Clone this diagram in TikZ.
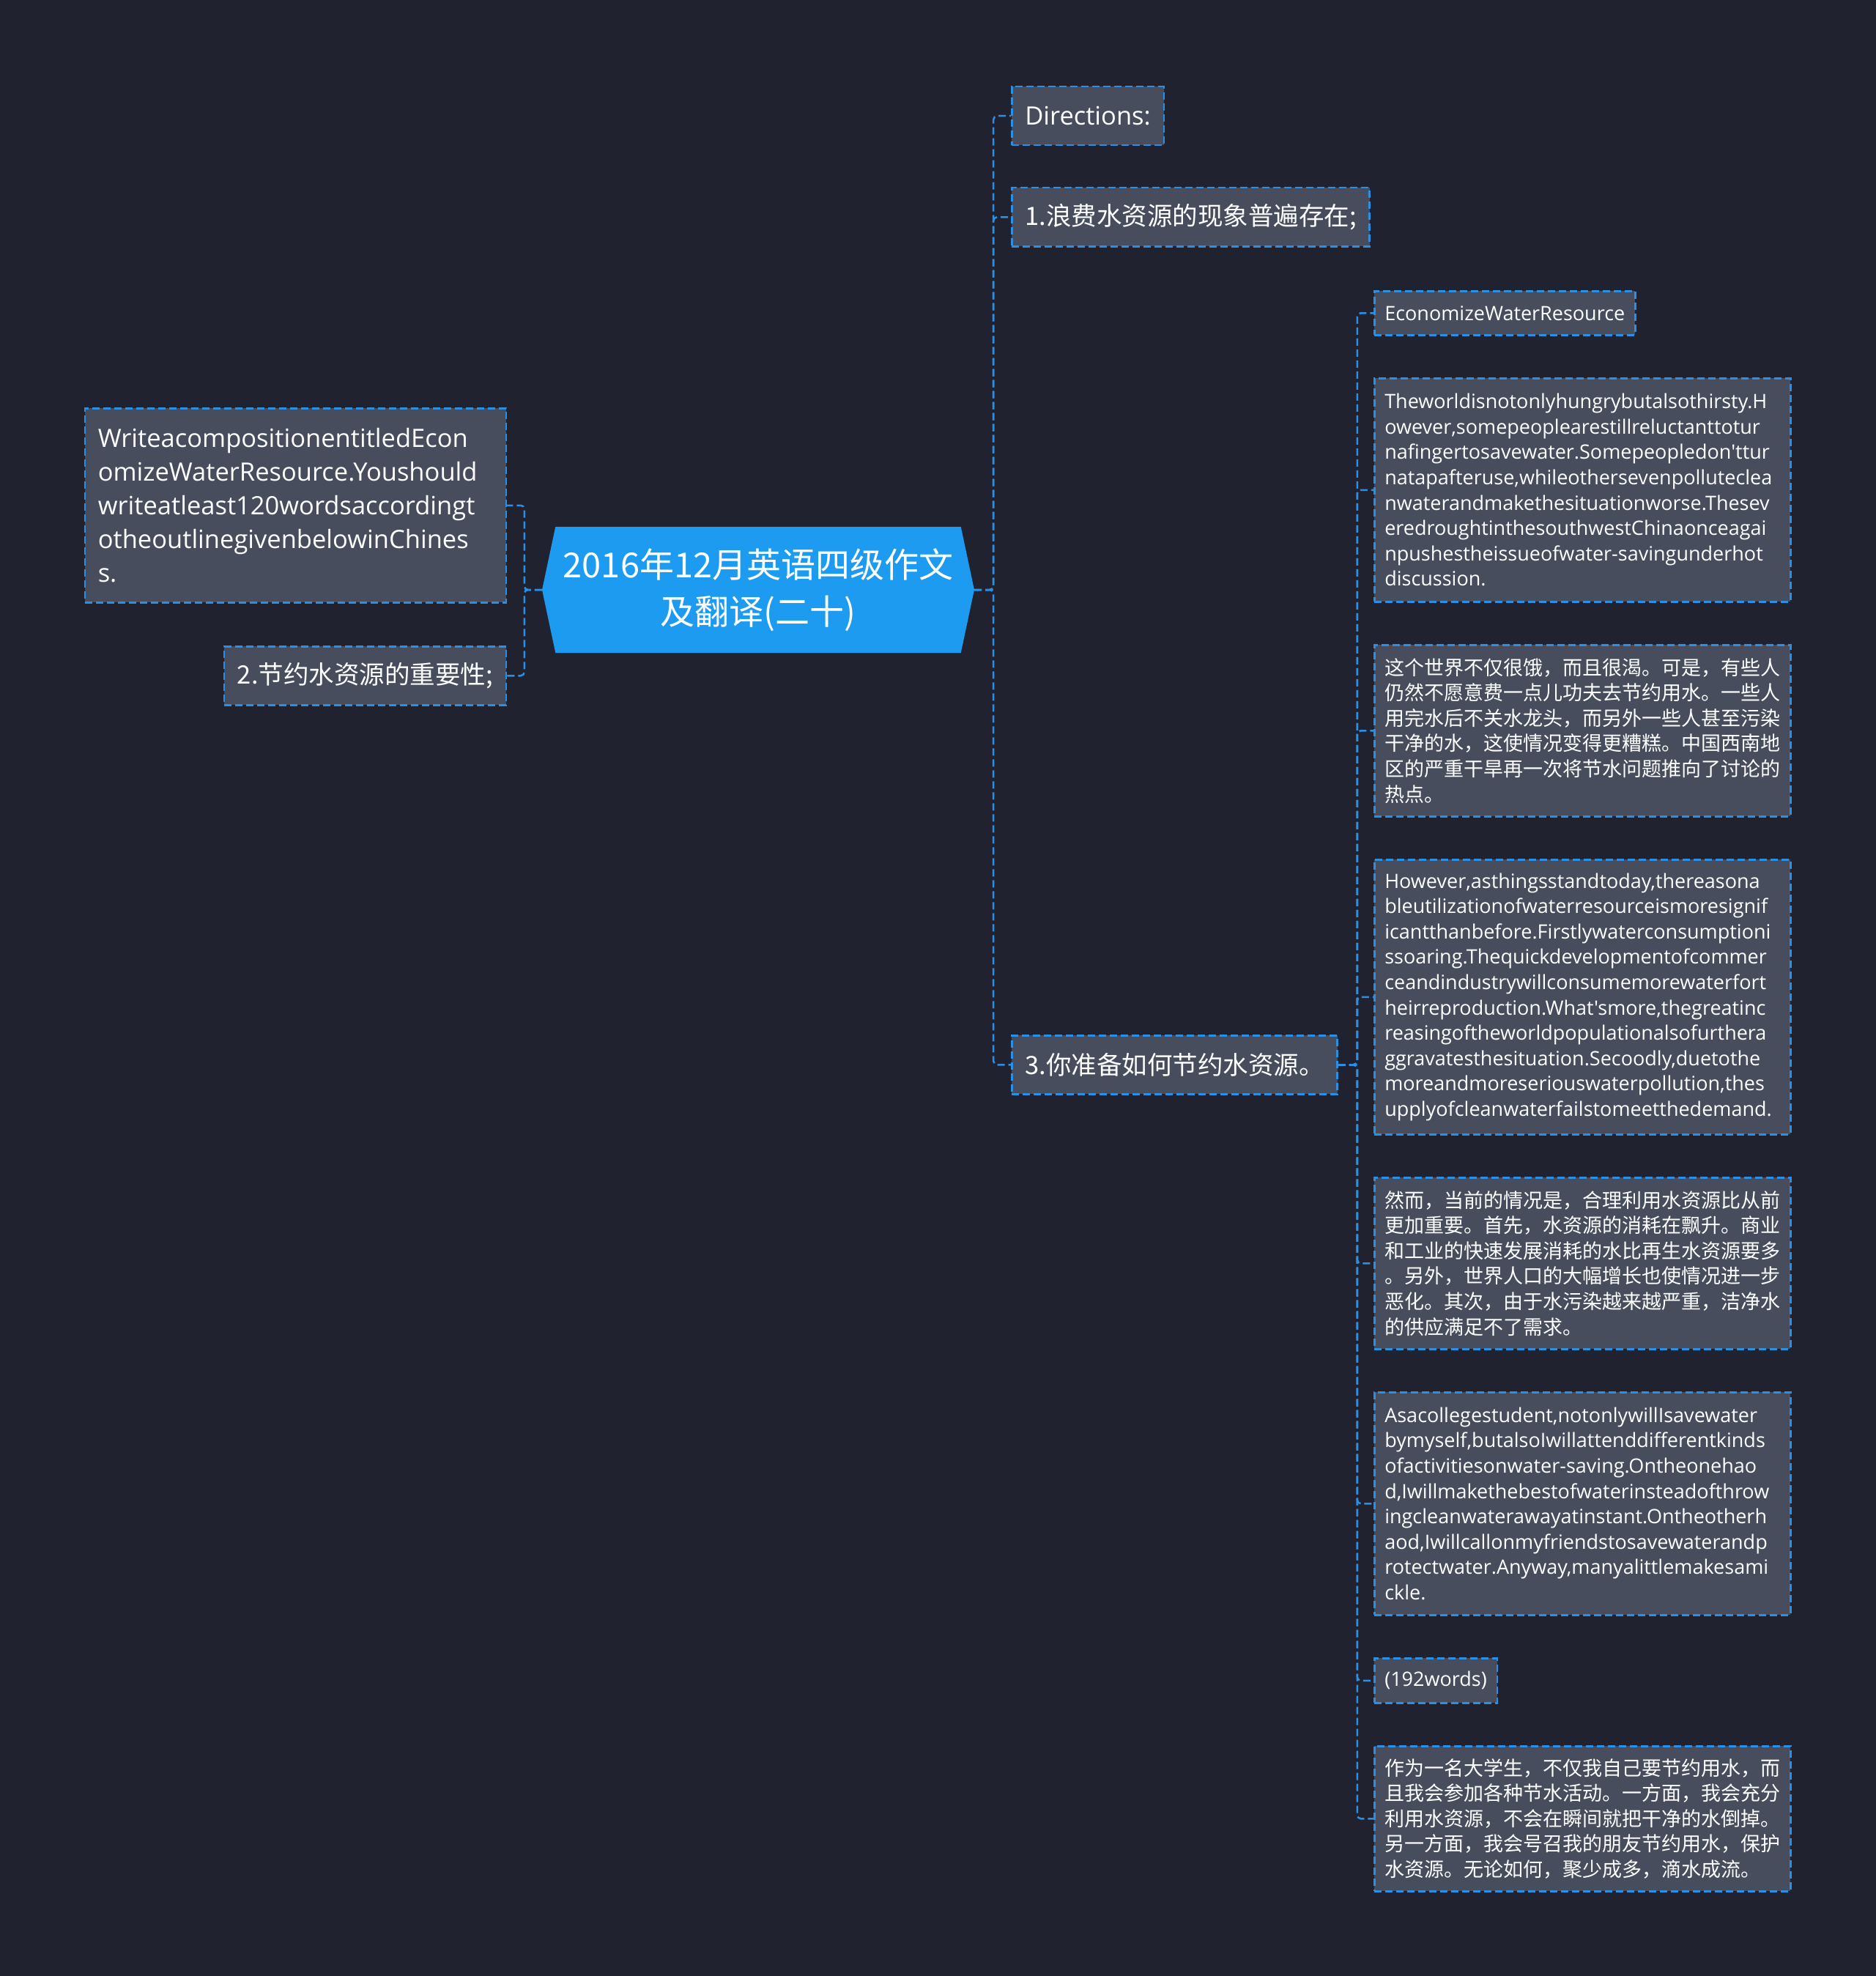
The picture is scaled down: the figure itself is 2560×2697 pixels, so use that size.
\documentclass[tikz,border=0pt]{standalone}
\usepackage{fontspec}
\setmainfont{Noto Sans CJK SC}
\newfontfamily\latinfont{Open Sans}
\usetikzlibrary{positioning,shapes.symbols}

\definecolor{bgnavy}{HTML}{20232F}
\definecolor{boxgray}{HTML}{474D5C}
\definecolor{linkblue}{HTML}{2B8FE3}
\definecolor{rootblue}{HTML}{1D9BF0}

% the lines are broken by hand, never hyphenate
\hyphenpenalty=10000
\exhyphenpenalty=10000

\begin{document}
\begin{tikzpicture}[
        x=1pt, y=-1pt,
        link/.style={draw=linkblue, line width=2.5pt, dash pattern=on 10pt off 5pt, rounded corners=5pt},
        dashbox/.style={
            draw=linkblue,
            fill=boxgray,
            text=white,
            line width=2.5pt,
            dash pattern=on 10pt off 5pt,
            inner ysep=3pt
        },
        topicbox/.style={dashbox, inner xsep=18pt, minimum height=80pt, font=\fontsize{34.5}{46}\selectfont},
        leafbox/.style={dashbox, inner xsep=14pt, font=\fontsize{27}{34.6}\selectfont},
        textcn/.style={leafbox, text width=540pt, align=left},
        texten/.style={leafbox, text width=540pt, align=left, font=\latinfont\fontsize{27}{34.6}\selectfont}
    ]

    % page size first, then the background
    \useasboundingbox (0,0) rectangle (2560,2697);
    \fill[bgnavy] (-10,-10) rectangle (2570,2707);

    % centre topic
    \node[
        shape=signal,
        signal to=west and east,
        signal pointer angle=156,
        fill=rootblue,
        text=white,
        align=center,
        minimum width=590pt,
        minimum height=172pt,
        inner sep=0pt,
        font=\fontsize{47}{64}\selectfont
    ] (root) at (1035,805) {2016年12月英语四级作文\\及翻译(二十)};

    % left branch
    \node[
        topicbox,
        text width=539pt,
        align=left,
        minimum height=265pt,
        anchor=north east,
        font=\latinfont\fontsize{34.5}{46}\selectfont
    ] (task) at (692,556) {
        WriteacompositionentitledEcon\\
        omizeWaterResource.Youshould\\
        writeatleast120wordsaccordingt\\
        otheoutlinegivenbelowinChines\\
        s.
    };
    \node[topicbox, anchor=north east] (point2) at (692,881) {2.节约水资源的重要性;};

    \draw[link] (root.west) -- ++(-24,0) |- (task.east);
    \draw[link] (root.west) -- ++(-24,0) |- (point2.east);

    % right branch
    \node[topicbox, anchor=north west, font=\latinfont\fontsize{34.5}{46}\selectfont] (dirs) at (1380,117) {Directions:};
    \node[topicbox, anchor=north west] (point1) at (1380,255) {1.浪费水资源的现象普遍存在;};
    \node[topicbox, anchor=north west] (point3) at (1380,1412) {3.你准备如何节约水资源。};

    \draw[link] (root.east) -- ++(26,0) |- (dirs.west);
    \draw[link] (root.east) -- ++(26,0) |- (point1.west);
    \draw[link] (root.east) -- ++(26,0) |- (point3.west);

    % the essay under point 3
    \node[leafbox, anchor=north west, minimum height=60pt, font=\latinfont\fontsize{27}{34.6}\selectfont] (title) at (1875,396) {EconomizeWaterResource};

    \node[texten, minimum height=305pt, below=56.5pt of title.south west, anchor=north west] (para1en) {
        Theworldisnotonlyhungrybutalsothirsty.H\\
        owever,somepeoplearestillreluctanttotur\\
        nafingertosavewater.Somepeopledon'ttur\\
        natapafteruse,whileothersevenpolluteclea\\
        nwaterandmakethesituationworse.Thesev\\
        eredroughtinthesouthwestChinaonceagai\\
        npushestheissueofwater-savingunderhot\\
        discussion.
    };

    \node[textcn, minimum height=234pt, below=56.5pt of para1en.south west, anchor=north west] (para1cn) {
        这个世界不仅很饿，而且很渴。可是，有些人\\
        仍然不愿意费一点儿功夫去节约用水。一些人\\
        用完水后不关水龙头，而另外一些人甚至污染\\
        干净的水，这使情况变得更糟糕。中国西南地\\
        区的严重干旱再一次将节水问题推向了讨论的\\
        热点。
    };

    \node[texten, minimum height=375pt, below=56.5pt of para1cn.south west, anchor=north west] (para2en) {
        However,asthingsstandtoday,thereasona\\
        bleutilizationofwaterresourceismoresignif\\
        icantthanbefore.Firstlywaterconsumptioni\\
        ssoaring.Thequickdevelopmentofcommer\\
        ceandindustrywillconsumemorewaterfort\\
        heirreproduction.What'smore,thegreatinc\\
        reasingoftheworldpopulationalsofurthera\\
        ggravatesthesituation.Secoodly,duetothe\\
        moreandmoreseriouswaterpollution,thes\\
        upplyofcleanwaterfailstomeetthedemand.
    };

    \node[textcn, minimum height=234pt, below=56.5pt of para2en.south west, anchor=north west] (para2cn) {
        然而，当前的情况是，合理利用水资源比从前\\
        更加重要。首先，水资源的消耗在飘升。商业\\
        和工业的快速发展消耗的水比再生水资源要多\\
        。另外，世界人口的大幅增长也使情况进一步\\
        恶化。其次，由于水污染越来越严重，洁净水\\
        的供应满足不了需求。
    };

    \node[texten, minimum height=304pt, below=56.5pt of para2cn.south west, anchor=north west] (para3en) {
        Asacollegestudent,notonlywillIsavewater\\
        bymyself,butalsoIwillattenddifferentkinds\\
        ofactivitiesonwater-saving.Ontheonehao\\
        d,Iwillmakethebestofwaterinsteadofthrow\\
        ingcleanwaterawayatinstant.Ontheotherh\\
        aod,Iwillcallonmyfriendstosavewaterandp\\
        rotectwater.Anyway,manyalittlemakesami\\
        ckle.
    };

    \node[leafbox, minimum height=61pt, font=\latinfont\fontsize{27}{34.6}\selectfont, below=56.5pt of para3en.south west, anchor=north west] (count) {(192words)};

    \node[textcn, minimum height=198pt, below=56.5pt of count.south west, anchor=north west] (para3cn) {
        作为一名大学生，不仅我自己要节约用水，而\\
        且我会参加各种节水活动。一方面，我会充分\\
        利用水资源，不会在瞬间就把干净的水倒掉。\\
        另一方面，我会号召我的朋友节约用水，保护\\
        水资源。无论如何，聚少成多，滴水成流。
    };

    \draw[link] (point3.east) -- ++(26,0) |- (title.west);
    \draw[link] (point3.east) -- ++(26,0) |- (para1en.west);
    \draw[link] (point3.east) -- ++(26,0) |- (para1cn.west);
    \draw[link] (point3.east) -- ++(26,0) |- (para2en.west);
    \draw[link] (point3.east) -- ++(26,0) |- (para2cn.west);
    \draw[link] (point3.east) -- ++(26,0) |- (para3en.west);
    \draw[link] (point3.east) -- ++(26,0) |- (count.west);
    \draw[link] (point3.east) -- ++(26,0) |- (para3cn.west);

\end{tikzpicture}
\end{document}
